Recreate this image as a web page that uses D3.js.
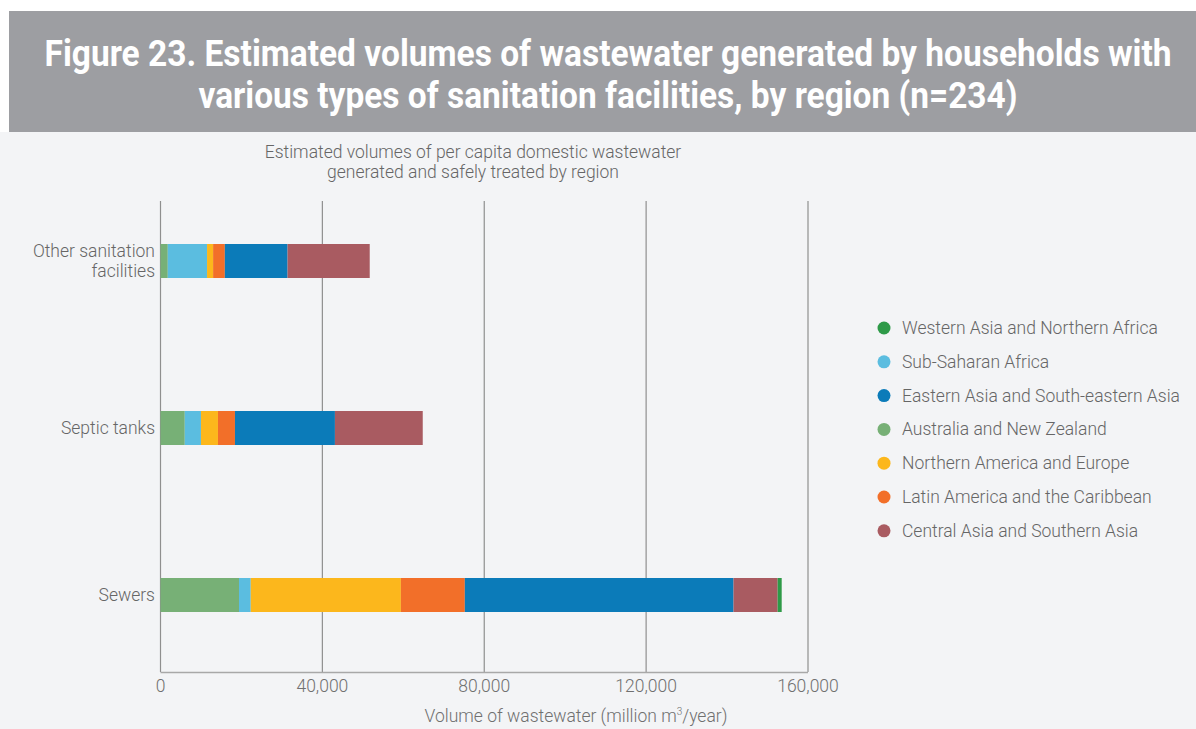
<!DOCTYPE html>
<html lang="en">
    <head>
        <meta charset="utf-8">
        <title>Figure 23 - Wastewater by sanitation facility</title>
        <script src="https://d3js.org/d3.v7.min.js"></script>
        <style type="text/css">
            body{
                margin:0;
                background:#ffffff;
            }
            svg{
                display:block;
                font-family:Roboto, "Open Sans", sans-serif;
            }
        </style>
    </head>
    <body>
        <svg width="1196" height="729"></svg>
        <script type="text/javascript">

            // facilities (y categories), top to bottom
            const facilities = ["Other sanitation facilities", "Septic tanks", "Sewers"];
            const facilityLines = [["Other sanitation", "facilities"], ["Septic tanks"], ["Sewers"]];

            // legend order
            const regions = [
                "Western Asia and Northern Africa",
                "Sub-Saharan Africa",
                "Eastern Asia and South-eastern Asia",
                "Australia and New Zealand",
                "Northern America and Europe",
                "Latin America and the Caribbean",
                "Central Asia and Southern Asia"
            ];
            const regionColors = ["#2e9a48", "#5bbde0", "#0b7bb9", "#77b076", "#fcb71c", "#f26f29", "#a95b61"];

            // stack order left to right
            const stackOrder = [
                "Australia and New Zealand",
                "Sub-Saharan Africa",
                "Northern America and Europe",
                "Latin America and the Caribbean",
                "Eastern Asia and South-eastern Asia",
                "Central Asia and Southern Asia",
                "Western Asia and Northern Africa"
            ];

            // million m3/year, per facility in the stackOrder above
            const otherValues  = [1800, 9700, 1500, 2900, 15500, 20300, 0];
            const septicValues = [6000, 4000, 4200, 4200, 24700, 21700, 0];
            const sewerValues  = [19400, 2900, 37100, 15800, 66400, 10900, 1000];

            const xTicks = [0, 40000, 80000, 120000, 160000];

            const table = facilities.map((f, i) => {
                const vals = [otherValues, septicValues, sewerValues][i];
                const row = {facility: f};
                stackOrder.forEach((r, j) => row[r] = vals[j]);
                return row;
            });

            const svg = d3.select("svg");
            const color = d3.scaleOrdinal(regions, regionColors);

            // background + header
            svg.append("rect").attr("x", 0).attr("y", 132).attr("width", 1196).attr("height", 597).style("fill", "#f3f4f6");
            svg.append("rect").attr("x", 9).attr("y", 11).attr("width", 1187).attr("height", 121).style("fill", "#9d9ea2");

            const titleLines = [
                {t: "Figure 23. Estimated volumes of wastewater generated by households with", y: 66, w: 1127},
                {t: "various types of sanitation facilities, by region (n=234)", y: 108, w: 819}
            ];
            svg.selectAll("text.title")
                .data(titleLines)
                .join("text")
                .attr("class", "title")
                .attr("x", 608)
                .attr("y", d=>d.y)
                .attr("text-anchor", "middle")
                .attr("textLength", d=>d.w)
                .attr("lengthAdjust", "spacingAndGlyphs")
                .style("font-size", "36px")
                .style("font-weight", 700)
                .style("fill", "#ffffff")
                .text(d=>d.t);

            // subtitle
            svg.selectAll("text.sub")
                .data(["Estimated volumes of per capita domestic wastewater", "generated and safely treated by region"])
                .join("text")
                .attr("class", "sub")
                .attr("x", 473)
                .attr("y", (d, i)=>158 + i * 20)
                .attr("text-anchor", "middle")
                .style("font-size", "17.5px")
                .style("font-weight", 300)
                .style("fill", "#666")
                .text(d=>d);

            const x = d3.scaleLinear().domain([0, 160000]).range([160.5, 808]);
            const y = d3.scalePoint().domain(facilities).range([261, 595]);
            const barH = 34;

            // grid lines
            svg.selectAll("line.grid")
                .data(xTicks)
                .join("line")
                .attr("class", "grid")
                .attr("x1", d=>x(d)).attr("x2", d=>x(d))
                .attr("y1", 201).attr("y2", 672)
                .style("stroke", "#8f8f8f")
                .style("stroke-width", 1.2);

            svg.append("line")
                .attr("x1", x(0)).attr("x2", x(160000))
                .attr("y1", 672.5).attr("y2", 672.5)
                .style("stroke", "#a8a8a8")
                .style("stroke-width", 1.6);

            // tick labels
            svg.selectAll("text.tick")
                .data(xTicks)
                .join("text")
                .attr("class", "tick")
                .attr("x", d=>x(d))
                .attr("y", 692)
                .attr("text-anchor", "middle")
                .style("font-size", "17.5px")
                .style("font-weight", 300)
                .style("fill", "#707070")
                .text(d=>d3.format(",")(d));

            const axisTitle = svg.append("text")
                .attr("x", 576)
                .attr("y", 722)
                .attr("text-anchor", "middle")
                .style("font-size", "17.5px")
                .style("font-weight", 300)
                .style("fill", "#707070");
            axisTitle.append("tspan").text("Volume of wastewater (million m");
            axisTitle.append("tspan").attr("dy", -7).style("font-size", "10px").text("3");
            axisTitle.append("tspan").attr("dy", 7).text("/year)");

            // stacked bars
            const series = d3.stack().keys(stackOrder)(table);
            svg.selectAll("g.series")
                .data(series)
                .join("g")
                .attr("class", "series")
                .style("fill", d=>color(d.key))
                .selectAll("rect")
                .data(d=>d)
                .join("rect")
                .attr("x", d=>x(d[0]))
                .attr("width", d=>x(d[1]) - x(d[0]))
                .attr("y", d=>y(d.data.facility) - barH / 2)
                .attr("height", barH);

            // category labels
            const catLabels = svg.selectAll("text.cat")
                .data(facilities)
                .join("text")
                .attr("class", "cat")
                .attr("text-anchor", "end")
                .style("font-size", "17.5px")
                .style("font-weight", 300)
                .style("fill", "#666");
            catLabels.each(function(d, i) {
                const lines = facilityLines[i];
                const cy = y(d);
                d3.select(this).selectAll("tspan")
                    .data(lines)
                    .join("tspan")
                    .attr("x", 155)
                    .attr("y", (t, k)=>cy + 6 + (k - (lines.length - 1) / 2) * 20)
                    .text(t=>t);
            });

            // legend
            const legend = svg.selectAll("g.legend")
                .data(regions)
                .join("g")
                .attr("class", "legend")
                .attr("transform", (d, i)=>`translate(884, ${328 + i * 33.8})`);
            legend.append("circle")
                .attr("r", 6.5)
                .style("fill", d=>color(d));
            legend.append("text")
                .attr("x", 18)
                .attr("y", 6)
                .style("font-size", "17.5px")
                .style("font-weight", 300)
                .style("fill", "#666")
                .text(d=>d);

        </script>
    </body>
</html>
